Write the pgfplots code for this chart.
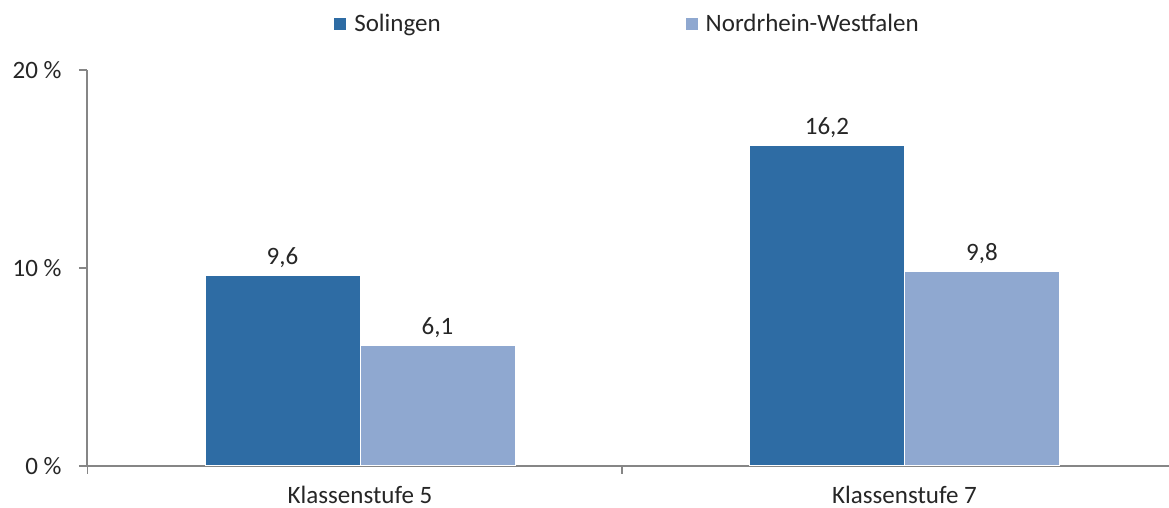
\documentclass[border=0pt]{standalone}
\usepackage{fontspec}
\setmainfont{Carlito}
\usepackage{pgfplots}
\pgfplotsset{compat=1.18}
\definecolor{cSol}{RGB}{46,108,164}
\definecolor{cNRW}{RGB}{143,168,208}
\definecolor{axgray}{RGB}{134,134,134}
\definecolor{txt}{RGB}{38,38,38}
\begin{document}
\begin{tikzpicture}[font=\fontsize{12.5pt}{15pt}\selectfont, text=txt]
\useasboundingbox (0,0) rectangle (584.5pt,254pt);
\begin{axis}[
  at={(43.5pt,21pt)}, anchor=south west,
  scale only axis, width=541pt, height=198pt,
  ybar=0pt, bar width=77.5pt,
  xmin=-0.5014, xmax=1.4858,
  ymin=0, ymax=20,
  axis x line=bottom, axis y line=left,
  axis line style={axgray, line width=0.7pt, -},
  tick style={axgray, line width=0.7pt},
  tick align=outside, major tick length=4pt,
  ytick={0,10,20}, yticklabels={0 \%,10 \%,20 \%},
  yticklabel style={anchor=east, inner sep=0pt, xshift=-8.5pt},
  xtick={-0.5,0.481}, xticklabels={},
  extra x ticks={0,1},
  extra x tick labels={Klassenstufe 5,Klassenstufe 7},
  extra x tick style={major tick length=0pt,
     xticklabel style={anchor=base, inner sep=0pt, yshift=-19pt}},
  /pgf/number format/assume math mode=true,
  nodes near coords,
  nodes near coords style={/pgf/number format/.cd, fixed, fixed zerofill, precision=1, use comma, assume math mode=true, /tikz/.cd, anchor=base, inner sep=0pt, yshift=5.5pt, text=txt},
  legend style={at={(0.5,1)}, anchor=center, yshift=23pt, draw=none, fill=none,
     legend columns=2, font=\fontsize{12.5pt}{15pt}\selectfont,
     /tikz/every even column/.append style={column sep=121pt},
     /tikz/every odd column/.append style={column sep=2.5pt},
     nodes={inner sep=1.5pt}},
  legend image code/.code={\fill[#1,draw=none] (0pt,-3pt) rectangle (6pt,3pt);},
]
\addplot[fill=cSol, draw=white, line width=0.5pt] coordinates {(0,9.6) (1,16.2)};
\addplot[fill=cNRW, draw=white, line width=0.5pt] coordinates {(0,6.1) (1,9.8)};
\legend{Solingen, Nordrhein-Westfalen}
\end{axis}
\end{tikzpicture}
\end{document}
